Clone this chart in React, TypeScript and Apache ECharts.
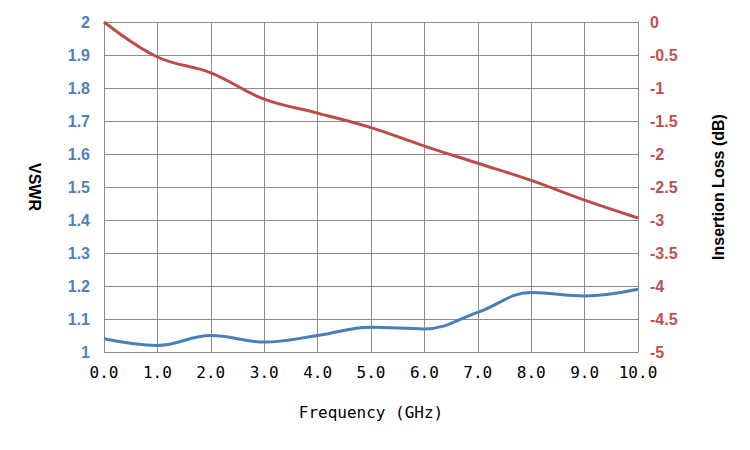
import { useEffect, useRef } from 'react';
import * as echarts from 'echarts';

const freq = [0, 1, 2, 3, 4, 5, 6, 7, 8, 9, 10];
const vswr = [1.04, 1.02, 1.05, 1.03, 1.05, 1.075, 1.07, 1.12, 1.18, 1.17, 1.19];
const insertionLoss = [0, -0.53, -0.77, -1.17, -1.38, -1.6, -1.88, -2.14, -2.4, -2.7, -2.97];

export default function App() {
  const ref = useRef<HTMLDivElement>(null);

  useEffect(() => {
    document.body.style.margin = '0';
    if (!ref.current) return;
    const chart = echarts.init(ref.current, undefined, { renderer: 'svg' });
    const gridLine = { lineStyle: { color: '#8c8c8c', width: 1 } };
    chart.setOption({
      animation: false,
      backgroundColor: '#fff',
      grid: { left: 104, right: 112, top: 22, bottom: 98 },
      xAxis: {
        type: 'value',
        min: 0,
        max: 10,
        interval: 1,
        name: 'Frequency (GHz)',
        nameLocation: 'middle',
        nameGap: 52,
        nameTextStyle: { fontFamily: 'DejaVu Sans Mono', fontSize: 16, color: '#000' },
        axisLine: gridLine,
        axisTick: { show: false },
        splitLine: { show: true, ...gridLine },
        axisLabel: {
          formatter: (v: number) => v.toFixed(1),
          fontFamily: 'DejaVu Sans Mono',
          fontSize: 16,
          color: '#000',
          margin: 12,
        },
      },
      yAxis: [
        {
          type: 'value',
          min: 1,
          max: 2,
          interval: 0.1,
          name: 'VSWR',
          nameLocation: 'middle',
          nameRotate: -90,
          nameGap: 62,
          nameTextStyle: { fontFamily: 'Liberation Sans', fontWeight: 'bold', fontSize: 16, color: '#000' },
          axisLine: { show: true, ...gridLine },
          axisTick: { show: false },
          splitLine: { show: true, ...gridLine },
          axisLabel: {
            formatter: (v: number) => String(Math.round(v * 10) / 10),
            fontFamily: 'Liberation Sans',
            fontWeight: 'bold',
            fontSize: 16,
            color: '#4f81bd',
            margin: 14,
          },
        },
        {
          type: 'value',
          min: -5,
          max: 0,
          interval: 0.5,
          name: 'Insertion Loss (dB)',
          nameLocation: 'middle',
          nameRotate: 90,
          nameGap: 72,
          nameTextStyle: { fontFamily: 'Liberation Sans', fontWeight: 'bold', fontSize: 16, color: '#000' },
          axisLine: { show: true, ...gridLine },
          axisTick: { show: false },
          splitLine: { show: false },
          axisLabel: {
            fontFamily: 'Liberation Sans',
            fontWeight: 'bold',
            fontSize: 16,
            color: '#c0504d',
            margin: 12,
          },
        },
      ],
      series: [
        {
          name: 'VSWR',
          type: 'line',
          smooth: 0.4,
          symbol: 'none',
          yAxisIndex: 0,
          data: freq.map((f, i) => [f, vswr[i]]),
          lineStyle: { color: '#4a7ebb', width: 3 },
        },
        {
          name: 'Insertion Loss',
          type: 'line',
          smooth: 0.4,
          symbol: 'none',
          yAxisIndex: 1,
          data: freq.map((f, i) => [f, insertionLoss[i]]),
          lineStyle: { color: '#be4b48', width: 3 },
        },
      ],
    });
    return () => chart.dispose();
  }, []);

  return <div ref={ref} style={{ width: 750, height: 450 }} />;
}
